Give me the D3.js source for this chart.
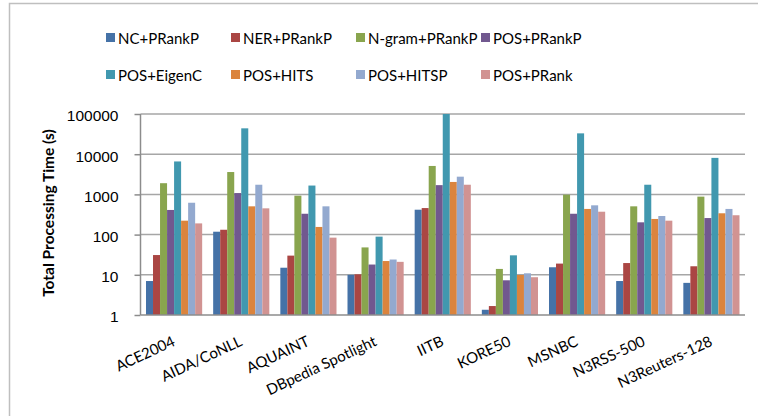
<!DOCTYPE html>
<html>
<head>
<meta charset="utf-8">
<script src="https://cdn.jsdelivr.net/npm/d3@7"></script>
<style>
  html, body { margin: 0; padding: 0; background: #fff; }
  svg { display: block; font-family: Lato, "Open Sans", sans-serif; }
  .grid line { stroke: #a6a6a6; stroke-width: 1.5; }
  .axis path, .axis line { stroke: #8c8c8c; stroke-width: 1.5; }
  .axis text { font-size: 15.5px; fill: #000; }
  .legend text { font-size: 15px; fill: #000; }
  .xlabel { font-size: 15px; fill: #000; }
  .ytitle { font-size: 15.5px; font-weight: bold; fill: #000; }
</style>
</head>
<body>
<svg id="chart"></svg>
<script>
const datasets = ["ACE2004", "AIDA/CoNLL", "AQUAINT", "DBpedia Spotlight", "IITB", "KORE50", "MSNBC", "N3RSS-500", "N3Reuters-128"];
const seriesNames = ["NC+PRankP", "NER+PRankP", "N-gram+PRankP", "POS+PRankP", "POS+EigenC", "POS+HITS", "POS+HITSP", "POS+PRank"];
const seriesColors = ["#4572a7", "#aa4643", "#89a54e", "#71588f", "#4198af", "#db843d", "#93a9cf", "#d19392"];

// seconds, one value per dataset
const ncPRankP = [7, 118, 15, 10, 416, 1.35, 15.4, 7, 6.3];
const nerPRankP = [31, 132, 30, 10.3, 457, 1.67, 19, 19.6, 16.3];
const ngramPRankP = [1900, 3600, 930, 48, 5100, 14, 985, 505, 880];
const posPRankP = [410, 1080, 330, 18, 1700, 7.3, 330, 202, 258];
const posEigenC = [6600, 44000, 1660, 89, 100000, 30.5, 33000, 1740, 8100];
const posHITS = [222, 505, 155, 22, 2040, 9.9, 435, 245, 339];
const posHITSP = [620, 1740, 505, 24, 2760, 10.9, 535, 290, 435];
const posPRank = [190, 450, 84, 21, 1740, 8.7, 371, 222, 303];

const yTicks = [1, 10, 100, 1000, 10000, 100000];

const seriesValues = [ncPRankP, nerPRankP, ngramPRankP, posPRankP, posEigenC, posHITS, posHITSP, posPRank];

const width = 758;
const height = 416;
const margin = { top: 114, right: 13, bottom: 101, left: 140.5 };
const innerWidth = width - margin.left - margin.right;
const innerHeight = height - margin.top - margin.bottom;

const svg = d3.select("#chart")
  .attr("width", width)
  .attr("height", height)
  .attr("viewBox", `0 0 ${width} ${height}`);

// chart frame: only the top and left edges are inside the picture
svg.append("path")
  .attr("d", `M9.5,${height}V3.5H${width}`)
  .attr("fill", "none").attr("stroke", "#bfbfbf").attr("stroke-width", 1.5);

const root = svg.append("g").attr("transform", `translate(${margin.left},${margin.top})`);

const x0 = d3.scaleBand().domain(datasets).range([0, innerWidth]).padding(0);
const x1 = d3.scaleBand().domain(seriesNames).range([5.5, x0.bandwidth() - 5.5]).padding(0);
const y = d3.scaleLog().domain([1, 100000]).range([innerHeight, 0]);

root.append("g")
  .attr("class", "grid")
  .selectAll("line")
  .data(yTicks.slice(1))
  .join("line")
  .attr("x1", 0).attr("x2", innerWidth)
  .attr("y1", (d) => y(d)).attr("y2", (d) => y(d));

const groups = root.append("g")
  .selectAll("g")
  .data(datasets)
  .join("g")
  .attr("transform", (d) => `translate(${x0(d)},0)`);

groups.selectAll("rect")
  .data((d, i) => seriesNames.map((s, k) => ({ s, k, v: seriesValues[k][i] })))
  .join("rect")
  .attr("x", (d) => x1(d.s))
  .attr("width", x1.bandwidth())
  .attr("y", (d) => y(d.v))
  .attr("height", (d) => innerHeight - y(d.v))
  .attr("fill", (d) => seriesColors[d.k]);

const yAxisG = root.append("g")
  .attr("class", "axis")
  .call(d3.axisLeft(y).tickValues(yTicks).tickFormat(d3.format("d")).tickSize(6).tickPadding(16));
yAxisG.select(".domain").attr("d", `M0,0V${innerHeight}`);
yAxisG.selectAll("text").attr("dy", "0.45em");

root.append("line")
  .attr("x1", 0).attr("x2", innerWidth)
  .attr("y1", innerHeight).attr("y2", innerHeight)
  .attr("stroke", "#8c8c8c").attr("stroke-width", 1.5);

root.append("g")
  .selectAll("text")
  .data(datasets)
  .join("text")
  .attr("class", "xlabel")
  .attr("text-anchor", "end")
  .attr("transform", (d) => `translate(${x0(d) + x0.bandwidth() / 2 + 2},${innerHeight + 30}) rotate(-25)`)
  .text((d) => d);

svg.append("text")
  .attr("class", "ytitle")
  .attr("text-anchor", "middle")
  .attr("transform", "translate(54,213) rotate(-90)")
  .text("Total Processing Time (s)");

const legend = svg.append("g")
  .attr("class", "legend")
  .selectAll("g")
  .data(seriesNames)
  .join("g")
  .attr("transform", (d, i) => `translate(${106 + (i % 4) * 125},${33 + Math.floor(i / 4) * 37})`);

legend.append("rect")
  .attr("width", 9).attr("height", 9)
  .attr("fill", (d, i) => seriesColors[i]);

legend.append("text")
  .attr("x", 12).attr("y", 11)
  .text((d) => d);
</script>
</body>
</html>
